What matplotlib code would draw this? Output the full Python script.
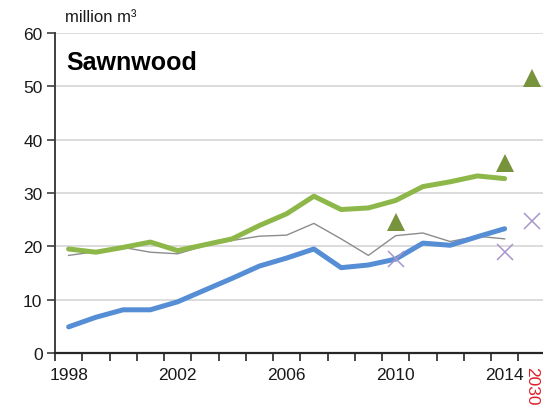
import matplotlib
matplotlib.use("Agg")
import matplotlib.pyplot as plt
from matplotlib.ticker import FixedLocator, NullFormatter

plt.rcParams['font.family'] = ['Liberation Sans', 'DejaVu Sans']

categories = [str(y) for y in range(1998, 2015)] + ['2030']
line_years = [str(y) for y in range(1998, 2015)]

blue_vals = [4.9, 6.7, 8.1, 8.1, 9.6, 11.8, 14.0, 16.3, 17.8, 19.5,
             16.0, 16.5, 17.6, 20.6, 20.2, 21.8, 23.3]
green_vals = [19.5, 18.9, 19.8, 20.8, 19.2, 20.3, 21.4, 23.9, 26.1, 29.4,
              26.9, 27.2, 28.6, 31.2, 32.1, 33.2, 32.7]
grey_vals = [18.3, 19.0, 19.8, 18.9, 18.6, 20.1, 21.1, 21.9, 22.1, 24.3,
             21.4, 18.3, 22.0, 22.5, 20.9, 21.9, 21.4]

tri_years = ['2010', '2014', '2030']
tri_vals = [24.6, 35.7, 51.6]
x_years = ['2010', '2014', '2030']
x_vals = [17.7, 18.9, 24.8]

label_years = ['1998', '2002', '2006', '2010', '2014']
yticks = [0, 10, 20, 30, 40, 50, 60]

pos = {c: i for i, c in enumerate(categories)}

fig = plt.figure(figsize=(5.43, 4.10), dpi=100)
ax = fig.add_axes([55/543, (410-354)/410, (543-55)/543, 320/410])

ax.set_ylim(0, 60)
ax.set_xlim(-0.5, (543-55)/27.25 - 0.5)

ax.yaxis.grid(True, color='#D9D9D9', linewidth=1.3, zorder=0)
ax.set_axisbelow(True)

ax.plot([pos[y] for y in line_years], grey_vals, color='#8C8C8C', linewidth=1.0, zorder=3)
ax.plot([pos[y] for y in line_years], green_vals, color='#8DB849', linewidth=3.6,
        solid_joinstyle='round', solid_capstyle='round', zorder=4)
ax.plot([pos[y] for y in line_years], blue_vals, color='#558ED5', linewidth=3.6,
        solid_joinstyle='round', solid_capstyle='round', zorder=5)

ax.plot([pos[y] for y in tri_years], tri_vals, linestyle='none', marker='^',
        markersize=13.5, color='#77933C', markeredgewidth=0, zorder=6)
ax.plot([pos[y] for y in x_years], x_vals, linestyle='none', marker='x',
        markersize=12, markeredgecolor='#A995CC', markeredgewidth=1.1, zorder=6)

for s in ['top', 'right']:
    ax.spines[s].set_visible(False)
ax.spines['left'].set_color('#404040')
ax.spines['left'].set_linewidth(1.4)
ax.spines['bottom'].set_color('#262626')
ax.spines['bottom'].set_linewidth(1.6)

ax.set_yticks(yticks)
ax.set_yticklabels([str(v) for v in yticks])
ax.tick_params(axis='y', length=6, width=1.2, color='#404040', pad=3,
               labelsize=12.5, labelcolor='#1a1a1a')

ax.set_xticks([pos[y] for y in label_years])
ax.set_xticklabels(label_years)
ax.tick_params(axis='x', which='major', length=0, pad=10, labelsize=12.5,
               labelcolor='#1a1a1a')
ax.xaxis.set_minor_locator(FixedLocator([i - 0.5 for i in range(len(categories) + 1)]))
ax.xaxis.set_minor_formatter(NullFormatter())
ax.tick_params(axis='x', which='minor', length=6, width=1.2, color='#262626')

ax.text(pos['2030'], -2.5, '2030', rotation=270, color='#E0202A', fontsize=12.5,
        ha='center', va='top', transform=ax.transData, clip_on=False)

ax.text(0.024, 0.8875, 'Sawnwood', transform=ax.transAxes, fontsize=18,
        fontweight='bold', ha='left', va='baseline', color='black')

fig.text(65/543, (410-22)/410, 'million m³', fontsize=12, ha='left',
         va='baseline', color='#1a1a1a')

fig.savefig('out.png', dpi=100)
